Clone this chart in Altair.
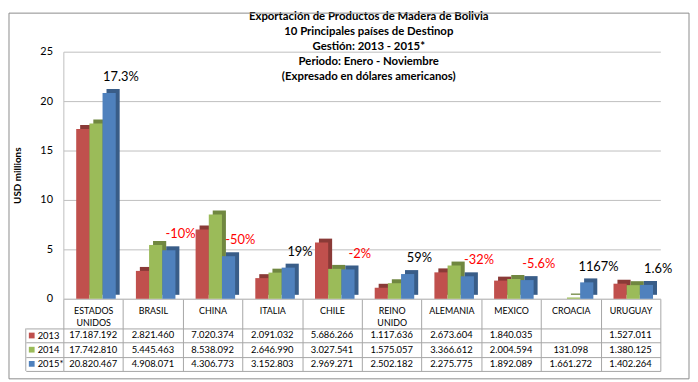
import altair as alt
import pandas as pd

# ---------------- data ----------------
countries = ["ESTADOS UNIDOS", "BRASIL", "CHINA", "ITALIA", "CHILE",
             "REINO UNIDO", "ALEMANIA", "MEXICO", "CROACIA", "URUGUAY"]
years = ["2013", "2014", "2015*"]
v2013 = [17187192, 2821460, 7020374, 2091032, 5686266, 1117636, 2673604, 1840035, None, 1527011]
v2014 = [17742810, 5445463, 8538092, 2646990, 3027541, 1575057, 3366612, 2004594, 131098, 1380125]
v2015 = [20820467, 4908071, 4306773, 3152803, 2969271, 2502182, 2275775, 1892089, 1661272, 1402264]
pct_labels = ["17.3%", "-10%", "-50%", "19%", "-2%", "59%", "-32%", "-5.6%", "1167%", "1.6%"]
title_lines = ["Exportación de Productos de Madera de Bolivia",
               "10 Principales países de Destinop",
               "Gestión: 2013 - 2015*",
               "Periodo: Enero - Noviembre",
               "(Expresado en dólares americanos)"]

front_colors = ["#C0504D", "#9BBB59", "#4F81BD"]
side_colors = ["#8A3A37", "#708740", "#395D88"]
FONT = "Lato"
GRID = "#BEBEBE"
TGRID = "#A6A6A6"

rows = []
for yr, vals in zip(years, [v2013, v2014, v2015]):
    for c, v in zip(countries, vals):
        rows.append({
            "country": c, "year": yr,
            "musd": None if v is None else v / 1e6,
            "cell": "" if v is None else f"{v:,}".replace(",", "."),
        })
df = pd.DataFrame(rows)
bars_df = df.dropna(subset=["musd"])
lab_df = pd.DataFrame({
    "country": countries,
    "musd": [v / 1e6 for v in v2015],
    "label": pct_labels,
    "neg": [s.startswith("-") for s in pct_labels],
})

W, H, TH = 604, 250, 43

x_enc = alt.X("country:N", sort=countries,
              scale=alt.Scale(domain=countries, paddingInner=0, paddingOuter=0),
              axis=alt.Axis(title=None, orient="bottom", tickBand="extent", tickSize=30,
                            tickColor=TGRID, domainColor=GRID, labelAngle=0,
                            labelExpr="split(datum.label, ' ')", labelFont=FONT,
                            labelFontSize=9, labelColor="#000", labelPadding=-22,
                            labelLineHeight=12, labelBaseline="top"))
y_enc = alt.Y("musd:Q", scale=alt.Scale(domain=[0, 25], nice=False),
              axis=alt.Axis(title="USD millions", titleFont=FONT, titleFontSize=10,
                            titleFontWeight="bold", titleColor="#000", titleX=-41,
                            values=[0, 5, 10, 15, 20, 25], grid=True, gridColor=GRID,
                            ticks=False, domain=True, domainColor=GRID,
                            labelFont=FONT, labelFontSize=11, labelPadding=11,
                            labelColor="#000"))

side = alt.Chart(bars_df).mark_bar(yOffset=-4, y2Offset=-4).encode(
    x=x_enc, y=y_enc,
    xOffset=alt.XOffset("year:N", sort=years,
                        scale=alt.Scale(domain=years, range=[17, 57], paddingInner=0, paddingOuter=0)),
    color=alt.Color("year:N", scale=alt.Scale(domain=years, range=side_colors), legend=None),
)
front = alt.Chart(bars_df).mark_bar().encode(
    x=x_enc, y=y_enc,
    xOffset=alt.XOffset("year:N", sort=years,
                        scale=alt.Scale(domain=years, range=[13, 53], paddingInner=0, paddingOuter=0)),
    color=alt.Color("year:N", scale=alt.Scale(domain=years, range=front_colors), legend=None),
)
labels = alt.Chart(lab_df).mark_text(font=FONT, fontSize=13, dx=28, dy=-16).encode(
    x=x_enc, y=y_enc, text="label:N",
    color=alt.condition("datum.neg", alt.value("#FF0000"), alt.value("#000000")),
)

top = alt.layer(side, front, labels).resolve_scale(
    xOffset="independent", color="independent"
).properties(
    width=W, height=H,
    title=alt.TitleParams(text=title_lines, font=FONT, fontSize=11.5, fontWeight="bold",
                          lineHeight=15.2, anchor="middle", frame="group", dx=7,
                          offset=-37, color="#000"),
)

# ---------------- data table ----------------
tx = alt.X("country:N", sort=countries,
           scale=alt.Scale(domain=countries, paddingInner=0, paddingOuter=0),
           axis=alt.Axis(title=None, orient="top", tickBand="extent", grid=True,
                         gridColor=TGRID, labels=False, ticks=False, domain=False))
ty = alt.Y("year:N", sort=years,
           scale=alt.Scale(domain=years, paddingInner=0, paddingOuter=0),
           axis=alt.Axis(title=None, tickBand="extent", grid=True, gridColor=TGRID,
                         ticks=True, tickSize=38, tickColor=TGRID, domain=False,
                         labelAlign="left", labelPadding=-11.5, labelFont=FONT,
                         labelFontSize=9.5, labelColor="#000"))

cells = alt.Chart(df).mark_text(font=FONT, fontSize=9.5, color="#000").encode(
    x=tx, y=ty, text="cell:N")
keys = alt.Chart(pd.DataFrame({"year": years})).mark_square(size=34, opacity=1).encode(
    x=alt.value(-32), y=ty,
    color=alt.Color("year:N", scale=alt.Scale(domain=years, range=front_colors), legend=None))
left_line = alt.Chart(pd.DataFrame({"a": [0]})).mark_rule(color=TGRID).encode(
    x=alt.value(-38), y=alt.value(0), y2=alt.value(TH))
frame = alt.Chart(pd.DataFrame({"a": [0]})).mark_rect(
    fillOpacity=0, stroke="#8C8C8C", strokeWidth=1).encode(
    x=alt.value(-55), x2=alt.value(633), y=alt.value(-319), y2=alt.value(51))

table = alt.layer(cells, keys, left_line, frame).properties(width=W, height=TH)

chart = alt.vconcat(top, table, spacing=30, bounds="flush").resolve_scale(
    x="independent", y="independent", color="independent"
).configure_view(strokeWidth=0).properties(padding=0, background="white")

chart.save("out.html", embed_options={"renderer": "svg", "actions": False})
